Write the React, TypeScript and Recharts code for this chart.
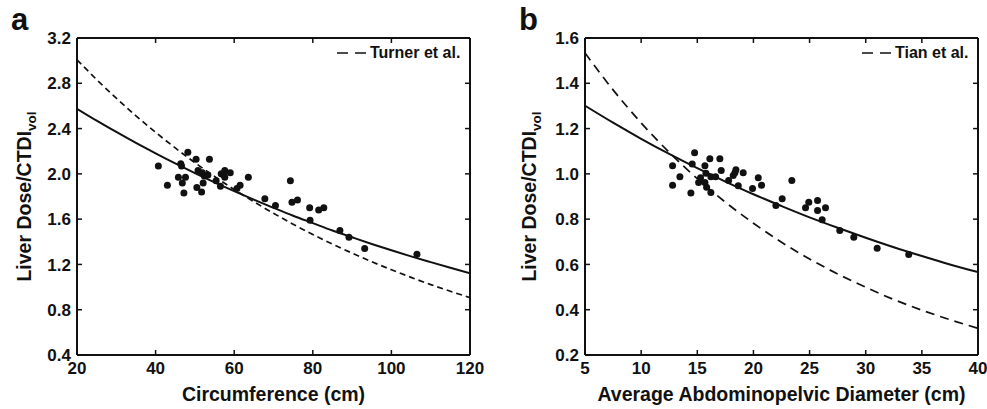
import React from 'react';
import { ComposedChart, Line, Scatter, XAxis, YAxis } from 'recharts';

// panel a: circumference vs liver dose / CTDIvol
const circumference = [
  40.7, 43.0, 45.8, 46.4, 46.6, 46.8, 47.6, 47.2, 48.2, 50.3, 50.8, 50.5, 51.7, 51.9,
  52.1, 52.4, 53.3, 53.7, 55.4, 56.5, 56.7, 57.3, 57.6, 57.6, 59.0, 60.7, 61.5, 63.6,
  67.8, 70.5, 74.3, 74.7, 76.1, 79.2, 79.3, 81.5, 82.8, 86.9, 89.2, 93.2, 106.5,
];
const doseA = [
  2.07, 1.90, 1.97, 2.09, 2.07, 1.92, 1.97, 1.83, 2.19, 2.13, 2.03, 1.88, 1.84, 2.01,
  1.92, 1.98, 1.99, 2.13, 1.94, 1.89, 2.00, 1.99, 2.03, 1.97, 2.01, 1.87, 1.90, 1.97,
  1.78, 1.72, 1.94, 1.75, 1.77, 1.70, 1.59, 1.68, 1.70, 1.50, 1.44, 1.34, 1.29,
];
const curveXA = [20, 25, 30, 35, 40, 45, 50, 55, 60, 65, 70, 75, 80, 85, 90, 95, 100, 105, 110, 115, 120];
const fitA = [
  2.575, 2.470, 2.370, 2.273, 2.181, 2.092, 2.007, 1.925, 1.847, 1.772, 1.700,
  1.630, 1.565, 1.500, 1.440, 1.381, 1.325, 1.271, 1.220, 1.170, 1.122,
];
const turner = [
  3.008, 2.833, 2.668, 2.513, 2.367, 2.229, 2.099, 1.977, 1.862, 1.754, 1.652,
  1.555, 1.465, 1.380, 1.300, 1.224, 1.153, 1.086, 1.022, 0.963, 0.907,
];
const xTicksA = [20, 40, 60, 80, 100, 120];
const yTicksA = [0.4, 0.8, 1.2, 1.6, 2.0, 2.4, 2.8, 3.2];

// panel b: average abdominopelvic diameter
const diameter = [
  12.8, 12.8, 13.45, 14.43, 14.55, 14.76, 15.12, 15.29, 15.68, 15.68, 15.77, 15.83, 16.12,
  16.21, 16.21, 16.63, 17.01, 17.13, 17.79, 18.2, 18.35, 18.44, 18.65, 19.09, 19.92,
  20.43, 20.72, 22.0, 22.56, 23.42, 24.64, 24.93, 25.71, 25.71, 26.12, 26.42, 27.69,
  28.94, 31.02, 33.83,
];
const doseB = [
  1.036, 0.950, 0.987, 0.915, 1.044, 1.093, 0.962, 0.983, 1.036, 0.962, 1.003, 0.941, 1.067,
  0.987, 0.918, 0.987, 1.067, 1.015, 0.971, 0.993, 1.005, 1.018, 0.947, 1.005, 0.935,
  0.983, 0.950, 0.860, 0.890, 0.971, 0.850, 0.875, 0.882, 0.838, 0.797, 0.850, 0.750,
  0.720, 0.672, 0.644,
];
const curveXB = [5, 7.5, 10, 12.5, 15, 17.5, 20, 22.5, 25, 27.5, 30, 32.5, 35, 37.5, 40];
const fitB = [1.301, 1.226, 1.155, 1.088, 1.025, 0.966, 0.910, 0.858, 0.808, 0.762, 0.718, 0.676, 0.637, 0.600, 0.566];
const tian = [1.534, 1.371, 1.225, 1.095, 0.979, 0.875, 0.782, 0.698, 0.624, 0.558, 0.499, 0.445, 0.398, 0.356, 0.318];
const xTicksB = [5, 10, 15, 20, 25, 30, 35, 40];
const yTicksB = [0.2, 0.4, 0.6, 0.8, 1.0, 1.2, 1.4, 1.6];

const INK = '#111';
const FONT = '"Liberation Sans", Arial, Helvetica, sans-serif';

const rows = (xs: number[], ys: number[]) => xs.map((x, i) => ({ x, y: ys[i] }));

const BottomTick = (p: any) => (
  <g>
    <line x1={p.x} x2={p.x} y1={p.y} y2={p.y - 5} stroke={INK} strokeWidth={1.5} />
    <text x={p.x} y={p.y + 19} textAnchor="middle" fontSize={17} fontWeight="bold" fill={INK} fontFamily={FONT}>
      {p.payload.value}
    </text>
  </g>
);
const TopTick = (p: any) => (
  <line x1={p.x} x2={p.x} y1={p.y} y2={p.y + 5} stroke={INK} strokeWidth={1.5} />
);
const LeftTick = (p: any) => (
  <g>
    <line x1={p.x} x2={p.x + 5} y1={p.y} y2={p.y} stroke={INK} strokeWidth={1.5} />
    <text x={p.x - 6} y={p.y} dy="0.36em" textAnchor="end" fontSize={17} fontWeight="bold" fill={INK} fontFamily={FONT}>
      {Number(p.payload.value).toFixed(1)}
    </text>
  </g>
);
const RightTick = (p: any) => (
  <line x1={p.x} x2={p.x - 5} y1={p.y} y2={p.y} stroke={INK} strokeWidth={1.5} />
);

const Dot = (p: any) => <circle cx={p.cx} cy={p.cy} r={3.5} fill={INK} />;

const yLabel = (cx: number) => (props: any) => {
  const vb = props.viewBox || { y: 38, height: 317 };
  const cy = vb.y + vb.height / 2;
  return (
    <text
      x={cx}
      y={cy}
      transform={`rotate(-90 ${cx} ${cy})`}
      textAnchor="middle"
      fontSize={19.5}
      fontWeight="bold"
      fill={INK}
      fontFamily={FONT}
    >
      Liver Dose/CTDI
      <tspan fontSize={13.5} dy={5}>vol</tspan>
    </text>
  );
};

const xLabel = (text: string) => (props: any) => {
  const vb = props.viewBox || { x: 0, y: 355, width: 400 };
  return (
    <text x={vb.x + vb.width / 2} y={vb.y + 46} textAnchor="middle" fontSize={19.5} fontWeight="bold" fill={INK} fontFamily={FONT}>
      {text}
    </text>
  );
};

interface PanelProps {
  letter: string;
  width: number;
  leftW: number;
  rightM: number;
  xDomain: [number, number];
  yDomain: [number, number];
  xTicks: number[];
  yTicks: number[];
  points: { x: number; y: number }[];
  fit: { x: number; y: number }[];
  ref2: { x: number; y: number }[];
  dash: string;
  refName: string;
  xTitle: string;
  labelX: number;
  legendLeft: number;
}

const Panel = (p: PanelProps) => (
  <div style={{ position: 'relative', width: p.width, height: 409 }}>
    <ComposedChart width={p.width} height={409} margin={{ top: 37, right: p.rightM, bottom: 0, left: 0 }}>
      <XAxis
        xAxisId={0}
        type="number"
        dataKey="x"
        domain={p.xDomain}
        ticks={p.xTicks}
        interval={0}
        height={54}
        tickSize={0}
        tickMargin={0}
        tickLine={false}
        tick={BottomTick}
        axisLine={{ stroke: INK, strokeWidth: 2 }}
        allowDataOverflow
        label={{ content: xLabel(p.xTitle) }}
      />
      <XAxis
        xAxisId="top"
        orientation="top"
        type="number"
        dataKey="x"
        domain={p.xDomain}
        ticks={p.xTicks}
        interval={0}
        height={1}
        tickSize={0}
        tickMargin={0}
        tickLine={false}
        tick={TopTick}
        axisLine={{ stroke: INK, strokeWidth: 2 }}
        allowDataOverflow
      />
      <YAxis
        yAxisId={0}
        type="number"
        dataKey="y"
        domain={p.yDomain}
        ticks={p.yTicks}
        interval={0}
        width={p.leftW}
        tickSize={0}
        tickMargin={0}
        tickLine={false}
        tick={LeftTick}
        axisLine={{ stroke: INK, strokeWidth: 2 }}
        allowDataOverflow
        label={{ content: yLabel(p.labelX) }}
      />
      <YAxis
        yAxisId="right"
        orientation="right"
        type="number"
        dataKey="y"
        domain={p.yDomain}
        ticks={p.yTicks}
        interval={0}
        width={1}
        tickSize={0}
        tickMargin={0}
        tickLine={false}
        tick={RightTick}
        axisLine={{ stroke: INK, strokeWidth: 2 }}
        allowDataOverflow
      />
      <Line
        data={p.ref2}
        dataKey="y"
        type="monotone"
        stroke={INK}
        strokeWidth={1.7}
        strokeDasharray={p.dash}
        dot={false}
        activeDot={false}
        isAnimationActive={false}
      />
      <Line
        data={p.fit}
        dataKey="y"
        type="monotone"
        stroke={INK}
        strokeWidth={2}
        dot={false}
        activeDot={false}
        isAnimationActive={false}
      />
      <Scatter data={p.points} dataKey="y" shape={Dot} isAnimationActive={false} />
    </ComposedChart>
    <div
      style={{
        position: 'absolute',
        left: p.letter === 'a' ? 11 : 29,
        top: 2,
        fontFamily: FONT,
        fontWeight: 'bold',
        fontSize: 31,
        lineHeight: '36px',
        color: INK,
      }}
    >
      {p.letter}
    </div>
    <div
      style={{
        position: 'absolute',
        left: p.legendLeft,
        top: 43,
        display: 'flex',
        alignItems: 'center',
        fontFamily: FONT,
        fontWeight: 'bold',
        fontSize: 16,
        color: INK,
        whiteSpace: 'nowrap',
      }}
    >
      <svg width={31} height={20}>
        <line x1={0} x2={30} y1={10} y2={10} stroke={INK} strokeWidth={1.7} strokeDasharray="11 7" />
      </svg>
      <span style={{ marginLeft: 2 }}>{p.refName}</span>
    </div>
  </div>
);

export default function App() {
  return (
    <div style={{ position: 'absolute', left: 0, top: 0, width: 987, height: 409, background: '#fff', display: 'flex' }}>
      <Panel
        letter="a"
        width={490}
        leftW={77}
        rightM={19}
        xDomain={[20, 120]}
        yDomain={[0.4, 3.2]}
        xTicks={xTicksA}
        yTicks={yTicksA}
        points={rows(circumference, doseA)}
        fit={rows(curveXA, fitA)}
        ref2={rows(curveXA, turner)}
        dash="6 4"
        refName="Turner et al."
        xTitle="Circumference (cm)"
        labelX={31}
        legendLeft={337}
      />
      <Panel
        letter="b"
        width={497}
        leftW={95}
        rightM={8}
        xDomain={[5, 40]}
        yDomain={[0.2, 1.6]}
        xTicks={xTicksB}
        yTicks={yTicksB}
        points={rows(diameter, doseB)}
        fit={rows(curveXB, fitB)}
        ref2={rows(curveXB, tian)}
        dash="9 6"
        refName="Tian et al."
        xTitle="Average Abdominopelvic Diameter (cm)"
        labelX={46}
        legendLeft={372}
      />
    </div>
  );
}
